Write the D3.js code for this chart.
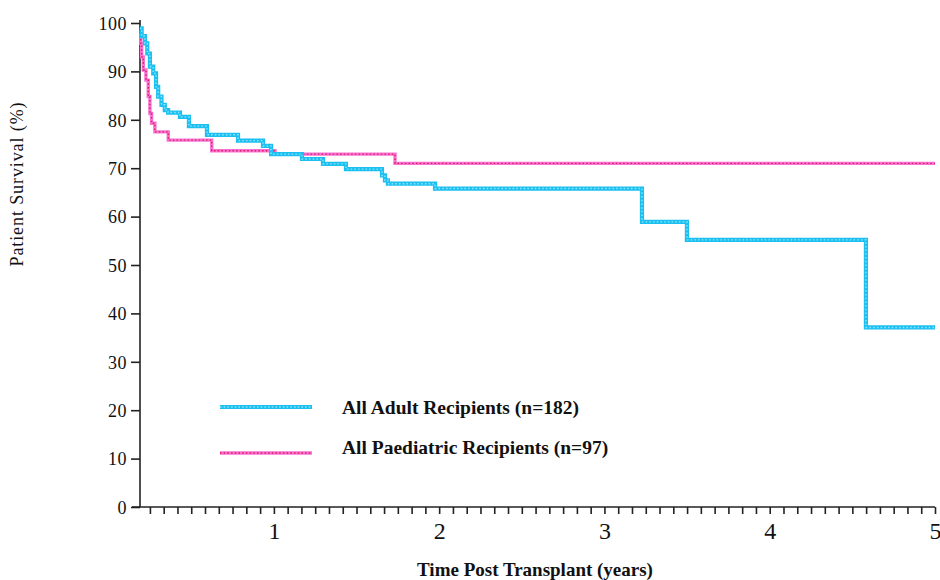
<!DOCTYPE html>
<html>
<head>
<meta charset="utf-8">
<script src="https://cdnjs.cloudflare.com/ajax/libs/d3/7.8.5/d3.min.js"></script>
<style>
  body { margin: 0; background: #fff; }
  text { font-family: "Liberation Serif", "Times New Roman", serif; fill: #111; }
</style>
</head>
<body>
<div id="chart"></div>
<script>
// time post transplant (years) where the survival estimate steps, and the value after the step
var adultTimes  = [0.19, 0.20, 0.22, 0.234, 0.25, 0.27, 0.287, 0.30, 0.32, 0.34, 0.36, 0.432, 0.486, 0.595, 0.783, 0.934, 0.983, 1.170, 1.297, 1.436, 1.654, 1.672, 1.690, 1.975, 3.227, 3.499, 4.582, 5.0];
var adultSurv   = [98.9, 97.3, 95.8, 93.7, 91.0, 89.6, 86.8, 84.8, 83.1, 82.0, 81.5, 80.6, 78.7, 76.9, 75.7, 74.6, 72.9, 71.9, 70.9, 69.8, 68.5, 67.5, 66.8, 65.8, 58.9, 55.2, 37.1, 37.1];

var paedTimes   = [0.185, 0.195, 0.20, 0.21, 0.226, 0.24, 0.25, 0.26, 0.28, 0.361, 0.624, 1.007, 1.733, 5.0];
var paedSurv    = [97.9, 95.8, 93.0, 90.3, 88.2, 84.8, 81.3, 79.3, 77.5, 75.8, 73.6, 72.9, 71.0, 71.0];

var yTicks      = [0, 10, 20, 30, 40, 50, 60, 70, 80, 90, 100];
var xTickLabels = [1, 2, 3, 4, 5];
var seriesNames = ['All Adult Recipients (n=182)', 'All Paediatric Recipients (n=97)'];

(function () {
  var width = 940, height = 580;
  var mLeft = 140, mRight = 935, mTop = 23, mBottom = 507;

  var svg = d3.select('#chart').append('svg')
    .attr('width', width)
    .attr('height', height);

  var x = d3.scaleLinear().domain([0.19, 5]).range([mLeft, mRight]);
  var y = d3.scaleLinear().domain([0, 100]).range([mBottom, mTop]);

  //----- axes
  var yAxis = d3.axisLeft(y)
    .tickValues(yTicks)
    .tickSize(9)
    .tickPadding(4);

  var gy = svg.append('g')
    .attr('transform', 'translate(' + mLeft + ',0)')
    .call(yAxis);
  gy.select('.domain').attr('d', 'M0,' + (mTop - 3) + 'V' + mBottom);
  gy.selectAll('text')
    .style('font-size', '18px')
    .style('letter-spacing', '0.5px')
    .attr('dy', '0.35em');

  // monthly ticks, labelled only at whole years
  var monthTicks = d3.range(3, 61).map(function (m) { return m / 12; });
  var xAxis = d3.axisBottom(x)
    .tickValues(monthTicks)
    .tickSize(7)
    .tickPadding(8)
    .tickFormat(function (d) {
      var r = Math.round(d);
      return (Math.abs(d - r) < 1e-6 && xTickLabels.indexOf(r) >= 0) ? r : '';
    });

  var gx = svg.append('g')
    .attr('transform', 'translate(0,' + mBottom + ')')
    .call(xAxis);
  gx.select('.domain').attr('d', 'M' + (mLeft - 8) + ',0H' + mRight);
  gx.selectAll('text').style('font-size', '24px');

  svg.selectAll('.domain, .tick line')
    .attr('stroke', '#222')
    .attr('stroke-width', 1.6);

  //----- axis titles
  svg.append('text')
    .attr('x', 535)
    .attr('y', 576)
    .attr('text-anchor', 'middle')
    .style('font-size', '19px')
    .style('font-weight', 'bold')
    .text('Time Post Transplant (years)');

  svg.append('text')
    .attr('transform', 'translate(23,184) rotate(-90)')
    .attr('text-anchor', 'middle')
    .style('font-size', '18px')
    .style('letter-spacing', '0.9px')
    .text('Patient Survival (%)');

  //----- survival curves
  var line = d3.line()
    .curve(d3.curveStepAfter)
    .x(function (d) { return x(d[0]); })
    .y(function (d) { return y(d[1]); });

  var adult = d3.zip(adultTimes, adultSurv);
  var paed = d3.zip(paedTimes, paedSurv);

  var series = [
    { data: paed,  base: '#f872d2', dots: '#e01a5e', w: 3.4 },
    { data: adult, base: '#1cc0f0', dots: '#8fe4ff', w: 4.2 }
  ];

  series.forEach(function (s) {
    svg.append('path')
      .datum(s.data)
      .attr('fill', 'none')
      .attr('stroke', s.base)
      .attr('stroke-width', s.w)
      .attr('d', line);
    svg.append('path')
      .datum(s.data)
      .attr('fill', 'none')
      .attr('stroke', s.dots)
      .attr('stroke-width', 1.4)
      .attr('stroke-dasharray', '1.5,2.2')
      .attr('d', line);
  });

  //----- legend
  var legend = [
    { y: 407, s: series[1], name: seriesNames[0], dy: 7 },
    { y: 453, s: series[0], name: seriesNames[1], dy: 1 }
  ];

  var lg = svg.selectAll('g.legend')
    .data(legend).enter()
    .append('g')
    .attr('class', 'legend')
    .attr('transform', function (d) { return 'translate(0,' + d.y + ')'; });

  lg.append('line')
    .attr('x1', 220).attr('x2', 312)
    .attr('stroke', function (d) { return d.s.base; })
    .attr('stroke-width', function (d) { return d.s.w; });
  lg.append('line')
    .attr('x1', 220).attr('x2', 312)
    .attr('stroke', function (d) { return d.s.dots; })
    .attr('stroke-width', 1.4)
    .attr('stroke-dasharray', '1.5,2.2');
  lg.append('text')
    .attr('x', 342)
    .attr('y', function (d) { return d.dy; })
    .style('font-size', '19.5px')
    .style('font-weight', 'bold')
    .text(function (d) { return d.name; });
})();
</script>
</body>
</html>
